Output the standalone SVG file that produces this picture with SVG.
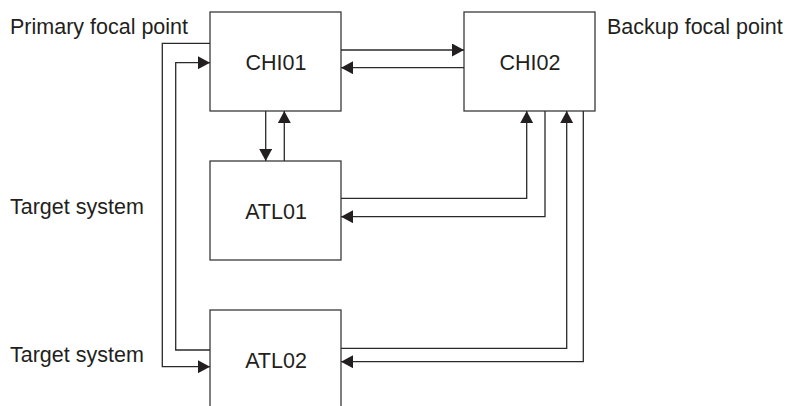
<svg xmlns="http://www.w3.org/2000/svg" width="787" height="406" viewBox="0 0 787 406">
<style>
.box{fill:#fff;stroke:#3a3a3a;stroke-width:1.3}
.lbl{font-family:"Liberation Sans",Arial,sans-serif;font-size:21.5px;fill:#231f20}
.ctr{text-anchor:middle}
.conn path{fill:none;stroke:#2a2a2a;stroke-width:1.3;marker-end:url(#ah)}
</style>
<defs>
<marker id="ah" markerUnits="userSpaceOnUse" markerWidth="13" markerHeight="13" refX="12" refY="6.5" orient="auto">
<path d="M0,0 L12,6.5 L0,13 z" fill="#231f20"/>
</marker>
</defs>
<rect width="787" height="406" fill="#fff"/>
<text class="lbl" x="10" y="34">Primary focal point</text>
<text class="lbl" x="607" y="34">Backup focal point</text>
<text class="lbl" x="10" y="214">Target system</text>
<text class="lbl" x="10" y="362">Target system</text>
<g id="CHI01"><rect class="box" x="210" y="12" width="131" height="99"/><text class="lbl ctr" x="276" y="70">CHI01</text></g>
<g id="CHI02"><rect class="box" x="464" y="12" width="131" height="99"/><text class="lbl ctr" x="530" y="70">CHI02</text></g>
<g id="ATL01"><rect class="box" x="210" y="161" width="131" height="99"/><text class="lbl ctr" x="276" y="219">ATL01</text></g>
<g id="ATL02"><rect class="box" x="210" y="310" width="131" height="120"/><text class="lbl ctr" x="276" y="368">ATL02</text></g>
<g id="connectors" class="conn">
<path d="M341,50 H464"/>
<path d="M464,67.7 H341"/>
<path d="M265.7,111 V161"/>
<path d="M284.3,161 V111"/>
<path d="M341,198.3 H526.7 V111"/>
<path d="M545,111 V216.7 H341"/>
<path d="M341,348.3 H566.7 V111"/>
<path d="M583.3,111 V361.7 H341"/>
<path d="M210,43.3 H162.3 V366.7 H210"/>
<path d="M210,350 H175.7 V62.7 H210"/>
</g>
</svg>
